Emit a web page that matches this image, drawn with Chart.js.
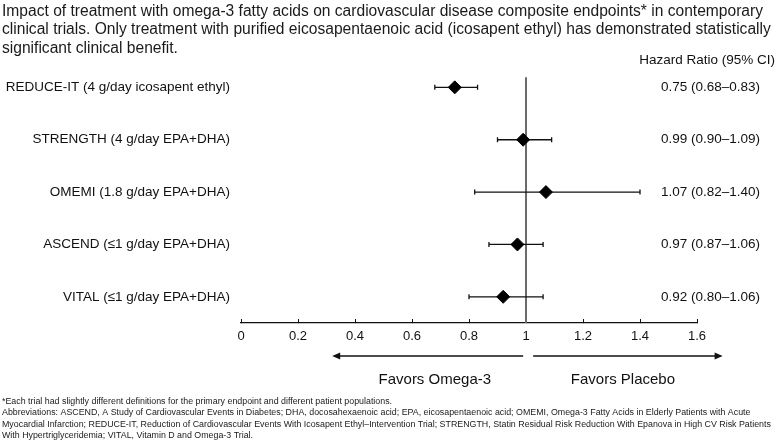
<!DOCTYPE html>
<html>
<head>
<meta charset="utf-8">
<script src="https://cdn.jsdelivr.net/npm/chart.js@4/dist/chart.umd.min.js"></script>
<style>
  html, body { margin: 0; padding: 0; background: #fff; }
  #wrap { width: 777px; height: 443px; position: relative; }
</style>
</head>
<body>
<div id="wrap"><canvas id="forest"></canvas></div>
<script>
const trials = [
  "REDUCE-IT (4 g/day icosapent ethyl)",
  "STRENGTH (4 g/day EPA+DHA)",
  "OMEMI (1.8 g/day EPA+DHA)",
  "ASCEND (\u22641 g/day EPA+DHA)",
  "VITAL (\u22641 g/day EPA+DHA)"
];
const hazardRatio = [0.75, 0.99, 1.07, 0.97, 0.92];
const ciLow  = [0.68, 0.90, 0.82, 0.87, 0.80];
const ciHigh = [0.83, 1.09, 1.40, 1.06, 1.06];
const xTicks = [0, 0.2, 0.4, 0.6, 0.8, 1, 1.2, 1.4, 1.6];

const titleLines = [
  "Impact of treatment with omega-3 fatty acids on cardiovascular disease composite endpoints* in contemporary",
  "clinical trials. Only treatment with purified eicosapentaenoic acid (icosapent ethyl) has demonstrated statistically",
  "significant clinical benefit."
];
const footLines = [
  "*Each trial had slightly different definitions for the primary endpoint and different patient populations.",
  "Abbreviations: ASCEND, A Study of Cardiovascular Events in Diabetes; DHA, docosahexaenoic acid; EPA, eicosapentaenoic acid; OMEMI, Omega-3 Fatty Acids in Elderly Patients with Acute",
  "Myocardial Infarction; REDUCE-IT, Reduction of Cardiovascular Events With Icosapent Ethyl\u2013Intervention Trial; STRENGTH, Statin Residual Risk Reduction With Epanova in High CV Risk Patients",
  "With Hypertriglyceridemia; VITAL, Vitamin D and Omega-3 Trial."
];
const ciHeader = "Hazard Ratio (95% CI)";
const favorsLeft = "Favors Omega-3";
const favorsRight = "Favors Placebo";

const FONT = "'Liberation Sans', Arial, Helvetica, sans-serif";
const fmt = v => v.toFixed(2);
const ciText = trials.map((t, i) => fmt(hazardRatio[i]) + " (" + fmt(ciLow[i]) + "\u2013" + fmt(ciHigh[i]) + ")");

const forestPlugin = {
  id: "forest",
  beforeDatasetsDraw(chart) {
    const ctx = chart.ctx, xs = chart.scales.x, ys = chart.scales.y, area = chart.chartArea;
    ctx.save();
    // reference line at HR = 1
    const x1 = xs.getPixelForValue(1);
    ctx.strokeStyle = "#6b6b6b";
    ctx.lineWidth = 2;
    ctx.beginPath();
    ctx.moveTo(x1, area.top + 16);
    ctx.lineTo(x1, area.bottom);
    ctx.stroke();
    // confidence intervals
    ctx.strokeStyle = "#111";
    ctx.lineWidth = 1.3;
    trials.forEach((t, i) => {
      const y = ys.getPixelForValue(i);
      const a = xs.getPixelForValue(ciLow[i]);
      const b = xs.getPixelForValue(ciHigh[i]);
      ctx.beginPath();
      ctx.moveTo(a, y); ctx.lineTo(b, y);
      ctx.moveTo(a, y - 2.5); ctx.lineTo(a, y + 2.5);
      ctx.moveTo(b, y - 2.5); ctx.lineTo(b, y + 2.5);
      ctx.stroke();
    });
    ctx.restore();
  },
  afterDraw(chart) {
    const ctx = chart.ctx, xs = chart.scales.x, ys = chart.scales.y, area = chart.chartArea;
    ctx.save();
    ctx.fillStyle = "#111";
    ctx.textBaseline = "middle";
    ctx.font = "13.5px " + FONT;
    ctx.textAlign = "right";
    ctx.fillText(ciHeader, chart.width - 2, area.top - 1);
    ctx.textAlign = "left";
    trials.forEach((t, i) => {
      ctx.fillText(ciText[i], area.right - 36, ys.getPixelForValue(i));
    });
    // favour arrows
    const ay = area.bottom + 33;
    ctx.strokeStyle = "#111";
    ctx.lineWidth = 1.5;
    const arrow = (from, to) => {
      const a = xs.getPixelForValue(from), b = xs.getPixelForValue(to);
      const d = Math.sign(b - a);
      ctx.beginPath();
      ctx.moveTo(a, ay); ctx.lineTo(b - d * 6, ay);
      ctx.stroke();
      ctx.beginPath();
      ctx.moveTo(b, ay); ctx.lineTo(b - d * 8, ay - 3.5); ctx.lineTo(b - d * 8, ay + 3.5);
      ctx.closePath();
      ctx.fill();
    };
    arrow(0.99, 0.32);
    arrow(1.025, 1.69);
    ctx.font = "15px " + FONT;
    ctx.textAlign = "center";
    ctx.fillText(favorsLeft, xs.getPixelForValue(0.68), area.bottom + 57);
    ctx.fillText(favorsRight, xs.getPixelForValue(1.34), area.bottom + 57);
    ctx.restore();
  }
};

new Chart("forest", {
  type: "scatter",
  data: {
    datasets: [{
      data: trials.map((t, i) => ({ x: hazardRatio[i], y: t })),
      pointStyle: "rectRot",
      pointRadius: 6.5,
      backgroundColor: "#000",
      borderColor: "#000",
      borderWidth: 1
    }]
  },
  options: {
    responsive: true,
    maintainAspectRatio: false,
    animation: false,
    layout: { padding: { left: 2, right: 0, top: 0, bottom: 0 } },
    plugins: {
      legend: { display: false },
      tooltip: { enabled: false },
      title: {
        display: true,
        text: titleLines,
        align: "start",
        color: "#1a1a1a",
        font: { family: FONT, size: 15.6, weight: "normal", lineHeight: 1.19 },
        padding: { top: 2, bottom: 3.5 }
      },
      subtitle: {
        display: true,
        position: "bottom",
        text: footLines,
        align: "start",
        color: "#1a1a1a",
        font: { family: FONT, size: 8.85, weight: "normal", lineHeight: 1.3 },
        padding: { top: 0, bottom: 1.5 }
      }
    },
    scales: {
      x: {
        type: "linear",
        min: 0,
        max: 1.6,
        afterBuildTicks: s => { s.ticks = xTicks.map(v => ({ value: v })); },
        afterFit: s => { s.height = 72.5; },
        grid: { drawOnChartArea: false, tickLength: -4, color: "#111", tickColor: "#111" },
        border: { display: true, color: "#111", width: 1.2 },
        ticks: {
          color: "#111",
          padding: 10,
          maxRotation: 0,
          font: { family: FONT, size: 13 },
          callback: v => String(v)
        }
      },
      y: {
        type: "category",
        labels: trials,
        offset: true,
        afterFit: s => { s.width = 239; },
        grid: { display: false, drawTicks: false },
        border: { display: false },
        ticks: { color: "#111", padding: 11, font: { family: FONT, size: 13.5 } }
      },
      // empty right-hand axis that keeps room for the CI column
      yRight: {
        type: "category",
        labels: trials,
        position: "right",
        offset: true,
        afterFit: s => { s.width = 80; },
        grid: { display: false, drawTicks: false },
        border: { display: false },
        ticks: { display: false }
      }
    }
  },
  plugins: [forestPlugin]
});
</script>
</body>
</html>
